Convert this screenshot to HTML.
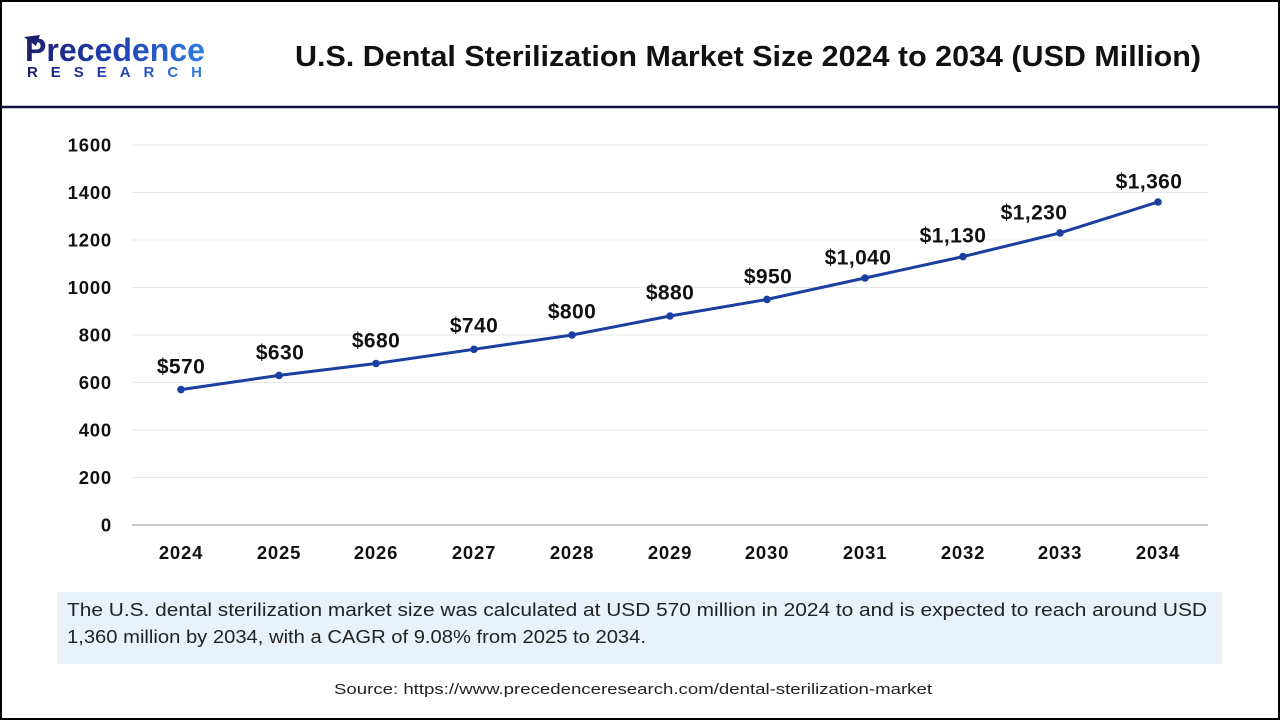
<!DOCTYPE html>
<html>
<head>
<meta charset="utf-8">
<style>
html,body{margin:0;padding:0;background:#fff;}
svg{display:block;}
text{font-family:"Liberation Sans",Arial,sans-serif;}
</style>
</head>
<body>
<svg width="1280" height="720" viewBox="0 0 1280 720" xmlns="http://www.w3.org/2000/svg">
<defs>
<linearGradient id="lg" x1="0" y1="0" x2="1" y2="0">
<stop offset="0" stop-color="#1b1f6b"/>
<stop offset="0.5" stop-color="#1f3fb0"/>
<stop offset="1" stop-color="#2e7de0"/>
</linearGradient>
</defs>
<rect x="0" y="0" width="1280" height="720" fill="#fff"/>
<rect x="1" y="1" width="1278" height="718" fill="none" stroke="#000" stroke-width="2"/>
<line x1="1" y1="107" x2="1279" y2="107" stroke="#10123f" stroke-width="2.5"/>

<!-- Logo -->
<path d="M24 37 L40 35 L36 46 Z" fill="#1b1f6b"/>
<text x="25" y="61" font-size="32" font-weight="bold" fill="url(#lg)" textLength="180" lengthAdjust="spacingAndGlyphs">Precedence</text>
<text x="27" y="77" font-size="15" font-weight="bold" fill="url(#lg)" textLength="175" lengthAdjust="spacing">RESEARCH</text>

<!-- Title -->
<text x="295" y="66" font-size="29" font-weight="bold" fill="#111" textLength="906" lengthAdjust="spacingAndGlyphs">U.S. Dental Sterilization Market Size 2024 to 2034 (USD Million)</text>

<!-- Grid -->
<g stroke="#e6e6e6" stroke-width="1">
<line x1="132" y1="145" x2="1208" y2="145"/>
<line x1="132" y1="192.5" x2="1208" y2="192.5"/>
<line x1="132" y1="240" x2="1208" y2="240"/>
<line x1="132" y1="287.5" x2="1208" y2="287.5"/>
<line x1="132" y1="335" x2="1208" y2="335"/>
<line x1="132" y1="382.5" x2="1208" y2="382.5"/>
<line x1="132" y1="430" x2="1208" y2="430"/>
<line x1="132" y1="477.5" x2="1208" y2="477.5"/>
</g>
<line x1="132" y1="525" x2="1208" y2="525" stroke="#bfbfbf" stroke-width="1.8"/>

<!-- Y labels -->
<g font-size="18.5" font-weight="bold" fill="#111" text-anchor="end" letter-spacing="0.8">
<text x="112" y="151.5">1600</text>
<text x="112" y="199">1400</text>
<text x="112" y="246.5">1200</text>
<text x="112" y="294">1000</text>
<text x="112" y="341.5">800</text>
<text x="112" y="389">600</text>
<text x="112" y="436.5">400</text>
<text x="112" y="484">200</text>
<text x="112" y="531.5">0</text>
</g>

<!-- X labels -->
<g font-size="18.5" font-weight="bold" fill="#111" text-anchor="middle" letter-spacing="0.8">
<text x="181" y="559">2024</text>
<text x="279" y="559">2025</text>
<text x="376" y="559">2026</text>
<text x="474" y="559">2027</text>
<text x="572" y="559">2028</text>
<text x="670" y="559">2029</text>
<text x="767" y="559">2030</text>
<text x="865" y="559">2031</text>
<text x="963" y="559">2032</text>
<text x="1060" y="559">2033</text>
<text x="1158" y="559">2034</text>
</g>

<!-- Line -->
<polyline fill="none" stroke="#1a3fa0" stroke-width="3" stroke-linejoin="round"
points="181,389.6 279,375.4 376,363.5 474,349.3 572,335 670,316 767,299.4 865,278 963,256.6 1060,232.9 1158,202"/>
<g fill="#1a3fa0">
<circle cx="181" cy="389.6" r="3.8"/>
<circle cx="279" cy="375.4" r="3.8"/>
<circle cx="376" cy="363.5" r="3.8"/>
<circle cx="474" cy="349.3" r="3.8"/>
<circle cx="572" cy="335" r="3.8"/>
<circle cx="670" cy="316" r="3.8"/>
<circle cx="767" cy="299.4" r="3.8"/>
<circle cx="865" cy="278" r="3.8"/>
<circle cx="963" cy="256.6" r="3.8"/>
<circle cx="1060" cy="232.9" r="3.8"/>
<circle cx="1158" cy="202" r="3.8"/>
</g>

<!-- Data labels -->
<g font-size="21" font-weight="bold" fill="#111" text-anchor="middle" letter-spacing="0.4">
<text x="181" y="373.5">$570</text>
<text x="280" y="359.5">$630</text>
<text x="376" y="347.5">$680</text>
<text x="474" y="332.5">$740</text>
<text x="572" y="318.5">$800</text>
<text x="670" y="299.5">$880</text>
<text x="768" y="283.5">$950</text>
<text x="858" y="264.5">$1,040</text>
<text x="953" y="242.5">$1,130</text>
<text x="1034" y="219.5">$1,230</text>
<text x="1149" y="188.5">$1,360</text>
</g>

<!-- Summary box -->
<rect x="57" y="592" width="1165" height="72" fill="#e9f1fa"/>
<text x="67" y="616" font-size="18" fill="#222" textLength="1140" lengthAdjust="spacingAndGlyphs">The U.S. dental sterilization market size was calculated at USD 570 million in 2024 to and is expected to reach around USD</text>
<text x="67" y="643" font-size="18" fill="#222" textLength="579" lengthAdjust="spacingAndGlyphs">1,360 million by 2034, with a CAGR of 9.08% from 2025 to 2034.</text>

<!-- Source -->
<text x="334" y="694" font-size="15" fill="#222" textLength="598" lengthAdjust="spacingAndGlyphs">Source: https://www.precedenceresearch.com/dental-sterilization-market</text>
</svg>
</body>
</html>
